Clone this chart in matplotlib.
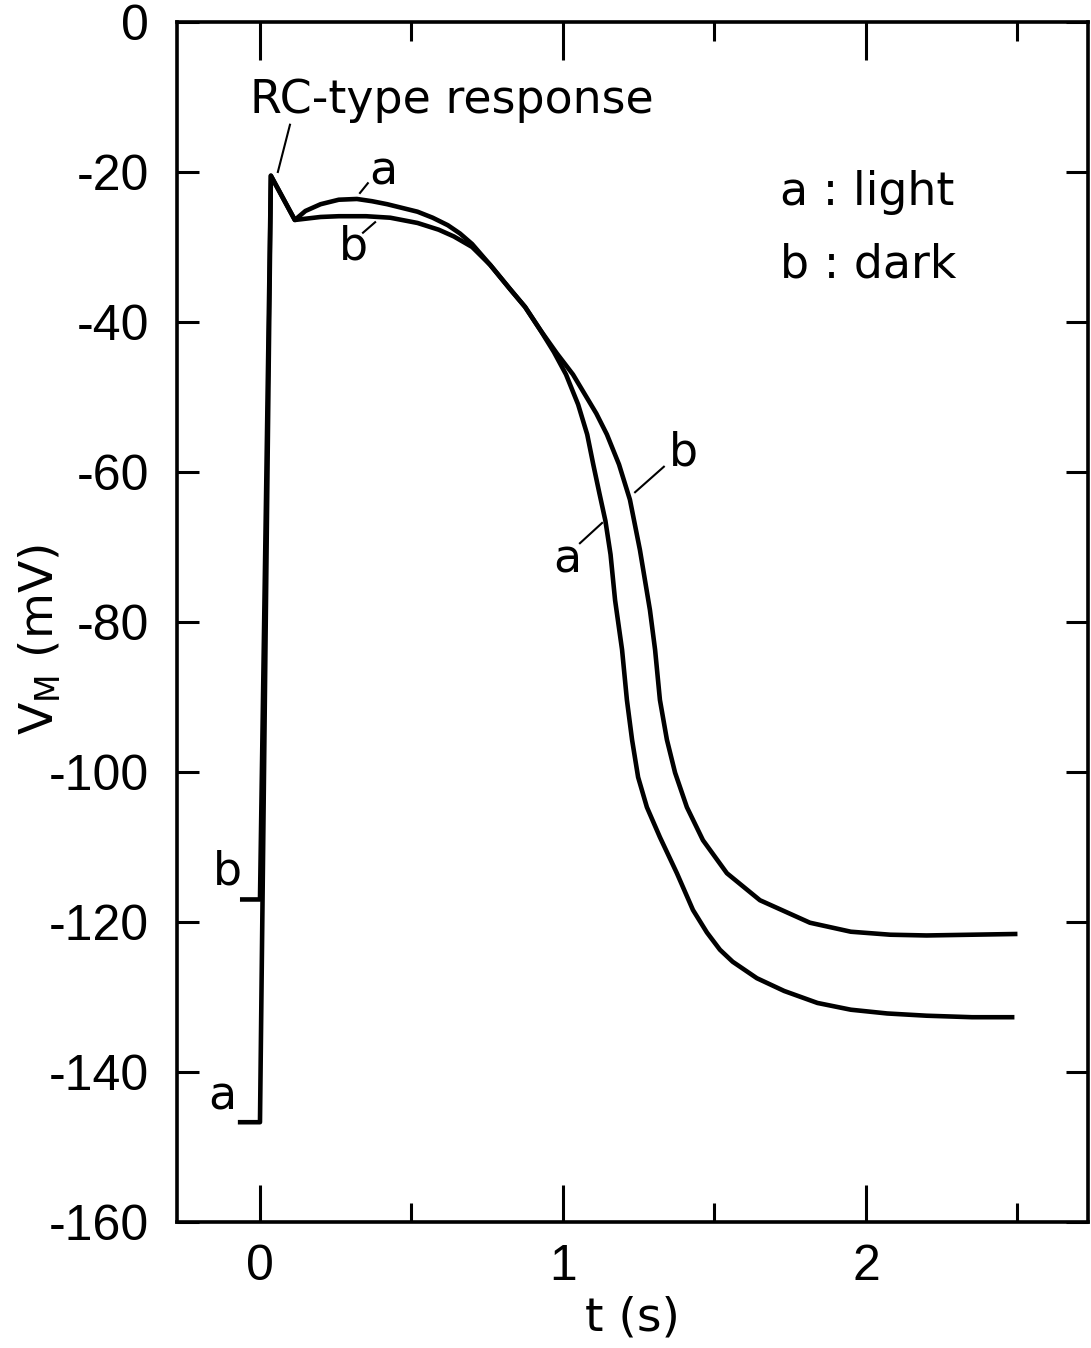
import matplotlib
matplotlib.use("Agg")
import matplotlib.pyplot as plt
from matplotlib.ticker import FixedLocator, FixedFormatter

# curve a (light), t in s, V in mV
t_a = [-0.073, 0.0, 0.036, 0.115, 0.15, 0.20, 0.26, 0.32, 0.37, 0.42, 0.46, 0.52, 0.57, 0.62,
       0.66, 0.70, 0.76, 0.825, 0.875, 0.924, 0.97, 1.01, 1.05, 1.08, 1.10, 1.12, 1.14, 1.157, 1.172,
       1.195, 1.211, 1.228, 1.248, 1.277, 1.32, 1.376, 1.429, 1.475, 1.518, 1.56, 1.64, 1.73, 1.84,
       1.95, 2.07, 2.20, 2.35, 2.49]
v_a = [-146.7, -146.7, -20.5, -26.4, -25.2, -24.3, -23.7, -23.6, -23.9, -24.3, -24.7, -25.3, -26.1, -27.1,
       -28.2, -29.6, -32.4, -35.6, -38.0, -41.0, -44.0, -47.0, -51.0, -55.0, -59.0, -62.8, -66.5, -71.0, -77.1,
       -83.7, -90.4, -95.7, -100.7, -104.7, -108.7, -113.5, -118.4, -121.4, -123.7, -125.3, -127.5, -129.2, -130.8,
       -131.7, -132.2, -132.5, -132.7, -132.7]

# curve b (dark)
t_b = [-0.066, 0.0, 0.036, 0.115, 0.20, 0.26, 0.35, 0.43, 0.52, 0.59, 0.64, 0.70,
       0.76, 0.825, 0.875, 0.924, 0.98, 1.033, 1.07, 1.11, 1.145, 1.185, 1.221, 1.254,
       1.287, 1.304, 1.32, 1.343, 1.37, 1.409, 1.462, 1.541, 1.65, 1.815,
       1.95, 2.08, 2.20, 2.35, 2.50]
v_b = [-117.0, -117.0, -20.5, -26.4, -26.0, -25.9, -25.9, -26.1, -26.8, -27.7, -28.6, -30.0,
       -32.4, -35.6, -38.0, -41.0, -44.2, -47.0, -49.5, -52.2, -55.0, -59.0, -63.7, -70.4,
       -78.4, -83.7, -90.4, -95.7, -100.1, -104.7, -109.1, -113.5, -117.1, -120.1,
       -121.3, -121.7, -121.8, -121.7, -121.6]

y_ticks = [0, -20, -40, -60, -80, -100, -120, -140, -160]
y_tick_labels = ["0", "-20", "-40", "-60", "-80", "-100", "-120", "-140", "-160"]
x_ticks = [0, 1, 2]
x_tick_labels = ["0", "1", "2"]
x_minor = [0.5, 1.5, 2.5]

plt.rcParams["font.family"] = ["DejaVu Sans"]
plt.rcParams["mathtext.default"] = "regular"

fig = plt.figure(figsize=(10.91, 13.48), dpi=100)
ax = fig.add_axes([0.1622, 0.0935, 0.8351, 0.8902])

lw = 3.3
ax.plot(t_a, v_a, color="black", lw=lw, solid_joinstyle="round", solid_capstyle="butt")
ax.plot(t_b, v_b, color="black", lw=lw, solid_joinstyle="round", solid_capstyle="butt")

ax.set_xlim(-0.274, 2.733)
ax.set_ylim(-160, 0)

for s in ax.spines.values():
    s.set_linewidth(2.6)

ax.yaxis.set_major_locator(FixedLocator(y_ticks))
ax.yaxis.set_major_formatter(FixedFormatter(y_tick_labels))
ax.xaxis.set_major_locator(FixedLocator(x_ticks))
ax.xaxis.set_major_formatter(FixedFormatter(x_tick_labels))
ax.xaxis.set_minor_locator(FixedLocator(x_minor))

ax.tick_params(axis="both", which="both", direction="in", top=True, right=True, width=2.2)
ax.tick_params(axis="x", which="major", length=27, pad=16)
ax.tick_params(axis="x", which="minor", length=14)
ax.tick_params(axis="y", which="major", length=16, pad=20)
for lab in ax.get_xticklabels() + ax.get_yticklabels():
    lab.set_fontfamily(["Liberation Sans", "DejaVu Sans"])
    lab.set_fontsize(36)

ax.set_xlabel("t (s)", fontsize=34)
ax.xaxis.set_label_coords(0.5, -0.061)
ax.set_ylabel("V$_{M}$ (mV)", fontsize=34)
ax.yaxis.set_label_coords(-0.124, 0.485)

fs = 33
# annotations
ax.text(-0.033, -12.1, "RC-type response", fontsize=fs, va="baseline", ha="left")
ax.plot([0.099, 0.059], [-13.7, -20.0], color="black", lw=1.5)

ax.text(1.716, -24.4, "a : light", fontsize=fs, va="baseline", ha="left")
ax.text(1.716, -34.1, "b : dark", fontsize=fs, va="baseline", ha="left")

ax.text(0.406, -20.0, "a", fontsize=fs, va="center", ha="center")
ax.plot([0.33, 0.356], [-22.8, -21.5], color="black", lw=1.5)
ax.text(0.307, -30.0, "b", fontsize=fs, va="center", ha="center")
ax.plot([0.34, 0.38], [-28.1, -26.7], color="black", lw=1.5)

ax.text(1.396, -57.5, "b", fontsize=fs, va="center", ha="center")
ax.plot([1.238, 1.333], [-62.7, -59.3], color="black", lw=1.5)
ax.text(1.013, -71.7, "a", fontsize=fs, va="center", ha="center")
ax.plot([1.056, 1.129], [-69.5, -66.8], color="black", lw=1.5)

ax.text(-0.125, -143.3, "a", fontsize=fs, va="center", ha="center")
ax.text(-0.106, -113.3, "b", fontsize=fs, va="center", ha="center")

fig.savefig("out.png", dpi=100)
